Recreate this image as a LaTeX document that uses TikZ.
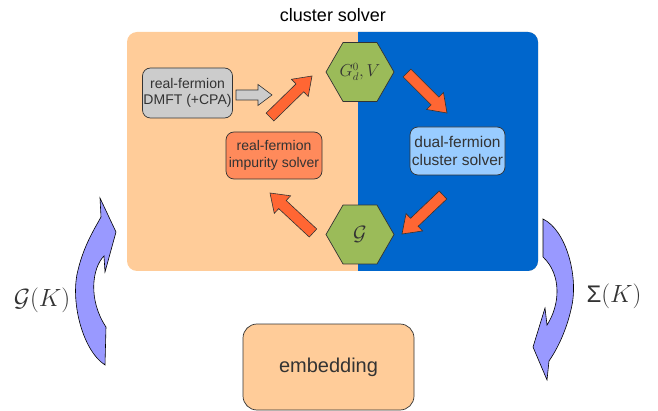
\documentclass[tikz,border=0pt]{standalone}
\usepackage{fontspec}
\setmainfont{Liberation Sans}
\usetikzlibrary{shapes.geometric,calc}

\definecolor{peach}{HTML}{FFCC99}
\definecolor{dfblue}{HTML}{0066CC}
\definecolor{hexgreen}{HTML}{9BBB59}
\definecolor{boxgray}{HTML}{CCCCCC}
\definecolor{impsalmon}{HTML}{FF8A5B}
\definecolor{dualblue}{HTML}{99CCFF}
\definecolor{fatorange}{HTML}{FF6633}
\definecolor{loopviolet}{HTML}{9999FF}
\definecolor{ink}{HTML}{333333}

% block arrow: [style]{tail}{tip}{shaft half width}{head half width}{head length}
\newcommand{\blockarrow}[6][]{%
	\coordinate (ba-h) at ($(#3)!#6!(#2)$);
	\filldraw[#1] ($(#2)!#4!90:(#3)$) -- ($(ba-h)!#4!90:(#3)$) -- ($(ba-h)!#5!90:(#3)$) -- (#3)
		-- ($(ba-h)!#5!-90:(#3)$) -- ($(ba-h)!#4!-90:(#3)$) -- ($(#2)!#4!-90:(#3)$) -- cycle;}

\begin{document}
\begin{tikzpicture}
		[x=1pt, y=-1pt,
		box/.style={draw=ink, line width=0.7pt, rounded corners=8pt, align=center, text=ink, inner sep=1pt,
			font=\fontsize{14}{16.5}\selectfont},
		hexa/.style={draw=ink, line width=0.7pt, fill=hexgreen, regular polygon, regular polygon sides=6,
			minimum size=68pt, inner sep=0pt, text=ink},
		fat/.style={fill=fatorange, draw=ink, line width=0.6pt},
		loopband/.style={fill=loopviolet, draw=black, line width=0.6pt}]
		\useasboundingbox (0,0) rectangle (658,411);

		% Cluster solver panel
		\fill[peach, rounded corners=10pt] (127,32) rectangle (538,271);
		\begin{scope}
			\clip (358,0) rectangle (658,300);
			\fill[dfblue, rounded corners=10pt] (127,32) rectangle (538,271);
		\end{scope}
		\node[font=\fontsize{18}{18}\selectfont] (title) at (333,15) {cluster solver};

		% Solvers
		\node[box, fill=boxgray, minimum width=87pt, minimum height=50pt] (dmft) at (187.5,93) {real-fermion\\DMFT (+CPA)};
		\node[box, fill=impsalmon, minimum width=96pt, minimum height=47pt] (imp) at (274,155.5) {real-fermion\\impurity solver};
		\node[box, fill=dualblue, minimum width=95pt, minimum height=48pt, font=\fontsize{15.5}{18}\selectfont] (dual) at (457.5,151) {dual-fermion\\cluster solver};

		% Green functions
		\node[hexa, font=\fontsize{16}{16}\selectfont] (g0) at (360,72) {$G_d^0,V$};
		\node[hexa, font=\fontsize{20}{20}\selectfont] (gloc) at (360,234.5) {$\mathcal{G}$};

		% Embedding
		\node[box, fill=peach, rounded corners=14pt, minimum width=171pt, minimum height=86pt,
			font=\fontsize{20}{24}\selectfont] (embed) at (328.5,367) {embedding};

		% Arrow ends
		\coordinate (dmft-out) at (236,95);  \coordinate (dmft-in) at (272,95);
		\coordinate (imp-out) at (270,117);  \coordinate (g0-in) at (312,76);
		\coordinate (g0-out) at (407,73);    \coordinate (dual-in) at (447,113);
		\coordinate (dual-out) at (443,195); \coordinate (gloc-in) at (402,234);
		\coordinate (gloc-out) at (313,233); \coordinate (imp-in) at (270,193);

		% Self-consistency cycle
		\blockarrow[fill=boxgray, draw=ink, line width=0.6pt]{dmft-out}{dmft-in}{5pt}{10.5pt}{14pt}
		\blockarrow[fat]{imp-out}{g0-in}{5.5pt}{12pt}{17pt}
		\blockarrow[fat]{g0-out}{dual-in}{5.5pt}{12pt}{17pt}
		\blockarrow[fat]{dual-out}{gloc-in}{5.5pt}{12pt}{17pt}
		\blockarrow[fat]{gloc-out}{imp-in}{5.5pt}{12pt}{17pt}

		% Lattice loop
		\filldraw[loopband] (105,365) .. controls (82,350) and (70,300) .. (78,270)
			.. controls (84,245) and (95,228) .. (101,217) -- (100,198) -- (116,232) -- (105,272) -- (104,256)
			.. controls (92,268) and (88,300) .. (106,327) -- cycle;
		\filldraw[loopband] (543,219) .. controls (566,230) and (578,275) .. (572,305)
			.. controls (568,325) and (560,345) .. (549,361) -- (547,380) -- (533,347) -- (545,308) -- (547,325)
			.. controls (560,305) and (562,275) .. (543,257) -- cycle;
		\node[font=\fontsize{24}{24}\selectfont, text=ink] (gk) at (42,300) {$\mathcal{G}(K)$};
		\node[font=\fontsize{24}{24}\selectfont, text=ink] (sk) at (614,296) {Σ$(K)$};
	\end{tikzpicture}
\end{document}
